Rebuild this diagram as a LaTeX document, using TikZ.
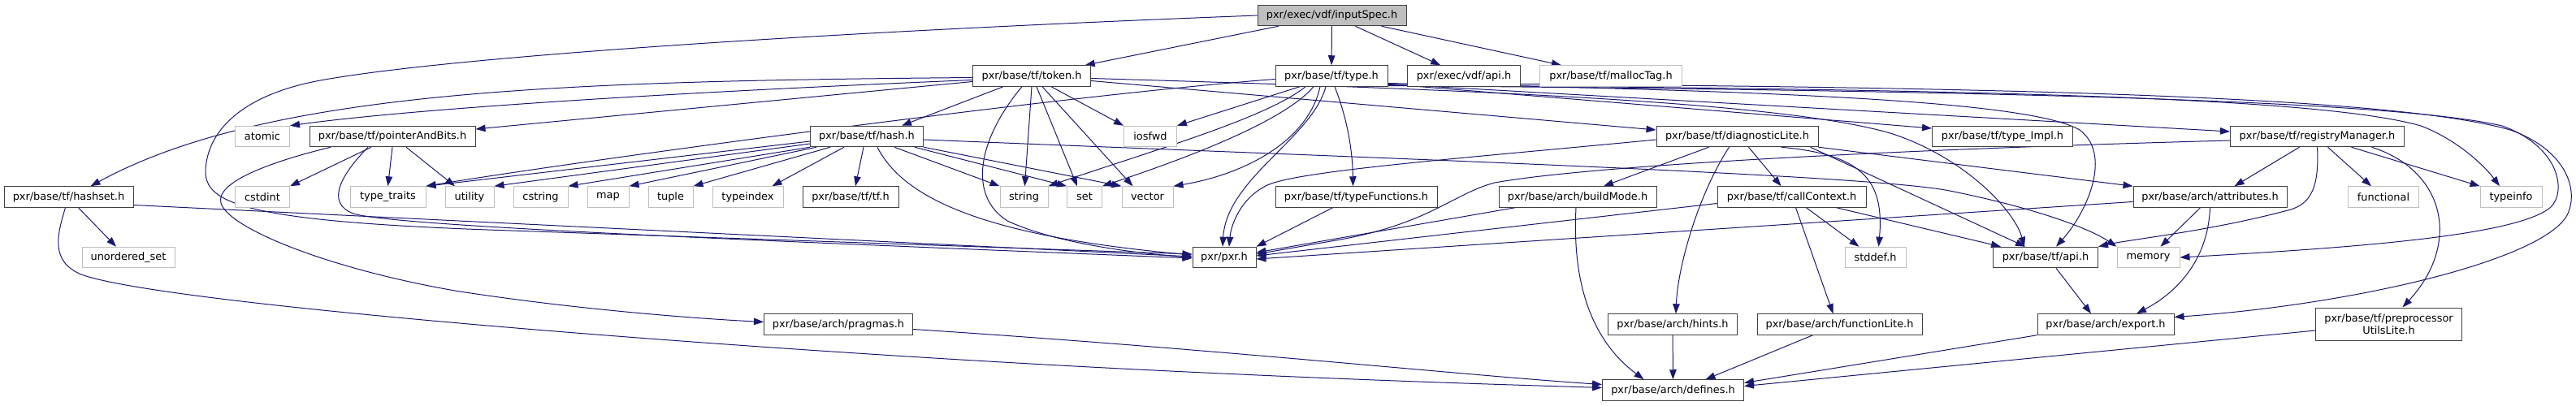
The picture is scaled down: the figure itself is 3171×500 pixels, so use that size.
\documentclass[tikz,border=0pt]{standalone}
\usepackage{fontspec}
\usetikzlibrary{arrows.meta, backgrounds}
\newfontfamily\dejavu{DejaVu Sans}
\definecolor{cedge}{HTML}{191970}
\definecolor{cdark}{HTML}{404040}
\definecolor{clight}{HTML}{BFBFBF}
\tikzset{
  every picture/.style={font=\dejavu\fontsize{12.9}{15}\selectfont, line width=1pt},
  hdr/.style={draw=cdark, fill=white, minimum height=25.5pt, inner xsep=2pt, inner ysep=0pt, line width=1pt},
  sys/.style={hdr, draw=clight},
  root/.style={hdr, fill=clight},
  dep/.style={-{Triangle[length=12pt,width=8.5pt]}, draw=cedge, line width=1pt},
}

\begin{document}
\begin{tikzpicture}[x=1pt, y=-1pt]
  \useasboundingbox (0,0) rectangle (3171,500);
  % row 0 and 1
  \node[root, minimum width=183pt] (is) at (1639.5,19) {pxr/exec/vdf/inputSpec.h};
  \node[hdr, minimum width=145pt] (tok) at (1270,93.5) {pxr/base/tf/token.h};
  \node[hdr, minimum width=138pt] (ty) at (1639,93.5) {pxr/base/tf/type.h};
  \node[hdr, minimum width=139pt] (vapi) at (1802,93.5) {pxr/exec/vdf/api.h};
  \node[sys, minimum width=175pt] (mtag) at (1983,93.5) {pxr/base/tf/mallocTag.h};
  % row 2
  \node[sys, minimum width=67pt] (atomic) at (323,168) {atomic};
  \node[hdr, minimum width=204pt] (pab) at (483,168) {pxr/base/tf/pointerAndBits.h};
  \node[hdr, minimum width=139pt] (hash) at (1067,168) {pxr/base/tf/hash.h};
  \node[sys, minimum width=65pt] (iosfwd) at (1416,168) {iosfwd};
  \node[hdr, minimum width=199pt] (diag) at (2138.5,168) {pxr/base/tf/diagnosticLite.h};
  \node[hdr, minimum width=173pt] (timpl) at (2465,168) {pxr/base/tf/type\_Impl.h};
  \node[hdr, minimum width=214pt] (rm) at (2852.5,168) {pxr/base/tf/registryManager.h};
  % row 3
  \node[hdr, minimum width=159pt] (hashset) at (84.5,242.5) {pxr/base/tf/hashset.h};
  \node[sys, minimum width=67pt] (cstdint) at (323,242.5) {cstdint};
  \node[sys, minimum width=93pt] (ttraits) at (477.5,242.5) {type\_traits};
  \node[sys, minimum width=60pt] (utility) at (578,242.5) {utility};
  \node[sys, minimum width=67pt] (cstring) at (665.5,242.5) {cstring};
  \node[sys, minimum width=51pt] (map) at (748.5,242.5) {map};
  \node[sys, minimum width=55pt] (tuple) at (825.5,242.5) {tuple};
  \node[sys, minimum width=87pt] (typeindex) at (920.5,242.5) {typeindex};
  \node[hdr, minimum width=118pt] (tfh) at (1047,242.5) {pxr/base/tf/tf.h};
  \node[sys, minimum width=59pt] (string) at (1260.5,242.5) {string};
  \node[sys, minimum width=43pt] (set) at (1335,242.5) {set};
  \node[sys, minimum width=63pt] (vector) at (1412.5,242.5) {vector};
  \node[hdr, minimum width=199pt] (tfun) at (1669.5,242.5) {pxr/base/tf/typeFunctions.h};
  \node[hdr, minimum width=194pt] (bmode) at (1942,242.5) {pxr/base/arch/buildMode.h};
  \node[hdr, minimum width=183pt] (cctx) at (2205.5,242.5) {pxr/base/tf/callContext.h};
  \node[hdr, minimum width=189pt] (attr) at (2720.5,242.5) {pxr/base/arch/attributes.h};
  \node[sys, minimum width=87pt] (functional) at (2934,242.5) {functional};
  \node[sys, minimum width=76pt] (typeinfo) at (3091,242.5) {typeinfo};
  % row 4
  \node[sys, minimum width=114pt] (unordered) at (158,317) {unordered\_set};
  \node[hdr, minimum width=78pt] (pxr) at (1507,317) {pxr/pxr.h};
  \node[sys, minimum width=75pt] (stddef) at (2308.5,317) {stddef.h};
  \node[hdr, minimum width=129pt] (tfapi) at (2518,317) {pxr/base/tf/api.h};
  \node[sys, minimum width=77pt] (memory) at (2644.5,317) {memory};
  % row 5 and 6
  \node[hdr, minimum width=183pt] (pragmas) at (1032,399.5) {pxr/base/arch/pragmas.h};
  \node[hdr, minimum width=159pt] (hints) at (2059,399.5) {pxr/base/arch/hints.h};
  \node[hdr, minimum width=203pt] (flite) at (2264.5,399.5) {pxr/base/arch/functionLite.h};
  \node[hdr, minimum width=168pt] (export) at (2592,399.5) {pxr/base/arch/export.h};
  \node[hdr, minimum width=180pt, minimum height=40pt, align=center] (ppu) at (2940.5,399) {pxr/base/tf/preprocessor\\UtilsLite.h};
  \node[hdr, minimum width=174pt] (defines) at (2059.5,480.5) {pxr/base/arch/defines.h};

  \begin{scope}[on background layer]
  % inputSpec.h
  \draw[dep] (is) -- (tok);
  \draw[dep] (is) -- (ty);
  \draw[dep] (is) -- (vapi);
  \draw[dep] (is) -- (mtag);
  \draw[dep] (is.west) .. controls (1000,40) and (560,70) .. (400,98) .. controls (300,115) and (255,160) .. (253,210) .. controls (252,250) and (300,272) .. (600,283) -- ([yshift=4pt]pxr.west);
  % token.h
  \draw[dep] ([yshift=-2pt]tok.west) .. controls (700,100) and (330,110) .. ([xshift=27pt]hashset.north);
  \draw[dep] ([yshift=-5pt]tok.west) .. controls (800,115) and (500,135) .. (atomic.north east);
  \draw[dep] ([yshift=-7pt]tok.west) -- ([yshift=9pt]pab.east);
  \draw[dep] ([xshift=-35pt]tok.south) -- ([xshift=43pt]hash.north);
  \draw[dep] (tok.south) -- (string);
  \draw[dep] ([xshift=6pt]tok.south) -- ([xshift=-9pt]set.north);
  \draw[dep] ([xshift=13pt]tok.south) -- ([xshift=-18pt]vector.north);
  \draw[dep] ([xshift=24pt]tok.south) -- (iosfwd.north west);
  \draw[dep] ([xshift=-12pt]tok.south) .. controls (1205,170) and (1190,240) .. (1240,272) .. controls (1300,300) and (1400,312) .. (pxr.west);
  \draw[dep] ([yshift=-6pt]tok.east) -- ([yshift=8pt]diag.west);
  \draw[dep] ([yshift=-3pt]tok.east) .. controls (1800,110) and (2200,125) .. (2330,165) .. controls (2420,195) and (2480,260) .. ([xshift=-26pt]tfapi.north);
  % type.h
  \draw[dep] ([xshift=-39pt]ty.south) -- (iosfwd.north east);
  \draw[dep] ([xshift=-32pt]ty.south) .. controls (1560,145) and (1420,185) .. (string.north east);
  \draw[dep] ([xshift=-22pt]ty.south) .. controls (1580,150) and (1460,195) .. (set.north east);
  \draw[dep] ([xshift=-14pt]ty.south) .. controls (1610,175) and (1530,215) .. (vector.north east);
  \draw[dep] ([xshift=-7pt]ty.south) .. controls (1615,170) and (1510,220) .. ([xshift=-2pt]pxr.north);
  \draw[dep] ([xshift=4pt]ty.south) .. controls (1660,150) and (1665,190) .. ([xshift=-4pt]tfun.north);
  \draw[dep] ([yshift=-4pt]ty.west) .. controls (1300,118) and (700,200) .. (ttraits.north east);
  \draw[dep] ([yshift=-10pt]ty.east) -- ([yshift=10pt]timpl.west);
  \draw[dep] ([yshift=-10pt]ty.east) -- ([yshift=6pt]rm.west);
  \draw[dep] ([yshift=-9pt]ty.east) .. controls (2200,112) and (2500,125) .. (2560,160) .. controls (2600,190) and (2570,260) .. ([xshift=13pt]tfapi.north);
  \draw[dep] ([yshift=-11pt]ty.east) .. controls (2400,110) and (2850,118) .. (2980,155) .. controls (3020,170) and (3055,200) .. ([xshift=-14pt]typeinfo.north);
  \draw[dep] ([yshift=-12pt]ty.east) .. controls (2500,112) and (2950,125) .. (3080,155) .. controls (3150,180) and (3160,235) .. (3140,255) .. controls (3100,290) and (2900,305) .. (memory.east);
  % vdf/api.h
  \draw[dep] ([yshift=-10pt]vapi.east) .. controls (2500,108) and (2950,120) .. (3090,160) .. controls (3160,185) and (3175,235) .. (3160,265) .. controls (3130,320) and (2900,375) .. ([yshift=9pt]export.east);
  % hash.h
  \draw[dep] ([yshift=-6pt]hash.west) -- (ttraits.north east);
  \draw[dep] ([yshift=-9pt]hash.west) -- (utility.north east);
  \draw[dep] (hash.south west) -- (cstring.north east);
  \draw[dep] ([xshift=8pt]hash.south west) -- (map.north east);
  \draw[dep] ([xshift=25pt]hash.south west) -- (tuple.north east);
  \draw[dep] ([xshift=42pt]hash.south west) -- ([xshift=-14pt]typeindex.north east);
  \draw[dep] ([xshift=-4pt]hash.south) -- ([xshift=6pt]tfh.north);
  \draw[dep] ([xshift=34pt]hash.south) -- (string.north west);
  \draw[dep] ([xshift=59pt]hash.south) -- (set.north west);
  \draw[dep] (hash.south east) -- (vector.north west);
  \draw[dep] ([xshift=13pt]hash.south) .. controls (1110,240) and (1200,290) .. ([yshift=3pt]pxr.west);
  \draw[dep] ([yshift=-4pt]hash.east) .. controls (1700,195) and (2300,215) .. (2400,235) .. controls (2500,255) and (2570,280) .. (memory.north west);
  % hashset.h
  \draw[dep] ([xshift=12pt]hashset.south) -- ([xshift=-15pt]unordered.north);
  \draw[dep] ([yshift=-10pt]hashset.east) -- ([yshift=1pt]pxr.west);
  \draw[dep] ([xshift=-4pt]hashset.south) .. controls (70,290) and (62,322) .. (100,338) .. controls (200,375) and (900,430) .. (1400,455) .. controls (1700,470) and (1900,475) .. ([yshift=3pt]defines.west);
  % pointerAndBits.h
  \draw[dep] ([xshift=-26pt]pab.south) -- (cstdint.north east);
  \draw[dep] (pab.south) -- (ttraits.north);
  \draw[dep] ([xshift=17pt]pab.south) -- ([xshift=-18pt]utility.north);
  \draw[dep] ([xshift=-30pt]pab.south) .. controls (420,215) and (400,250) .. (435,263) .. controls (480,278) and (900,295) .. ([yshift=-1pt]pxr.west);
  \draw[dep] ([xshift=-76pt]pab.south) .. controls (330,200) and (265,225) .. (272,250) .. controls (280,280) and (400,330) .. (560,358) .. controls (700,380) and (850,392) .. ([yshift=3pt]pragmas.west);
  % diagnosticLite.h
  \draw[dep] ([yshift=-4pt]diag.west) .. controls (1800,195) and (1600,210) .. (1560,228) .. controls (1525,245) and (1515,280) .. ([xshift=6pt]pxr.north);
  \draw[dep] ([xshift=-35pt]diag.south) -- ([xshift=32pt]bmode.north);
  \draw[dep] ([xshift=-10pt]diag.south) .. controls (2090,240) and (2065,330) .. ([xshift=4pt]hints.north);
  \draw[dep] ([xshift=14pt]diag.south) -- ([xshift=-13pt]cctx.north);
  \draw[dep] ([xshift=54pt]diag.south) .. controls (2290,190) and (2320,220) .. ([xshift=4pt]stddef.north);
  \draw[dep] ([xshift=90pt]diag.south) -- ([xshift=-25pt]tfapi.north);
  \draw[dep] (diag.south east) -- (attr.north west);
  % buildMode.h, typeFunctions.h, callContext.h
  \draw[dep] ([xshift=-77pt]bmode.south) -- ([yshift=6pt]pxr.east);
  \draw[dep] ([xshift=-2pt]bmode.south) .. controls (1935,350) and (1960,420) .. ([xshift=-36pt]defines.north);
  \draw[dep] ([xshift=-29pt]tfun.south) -- (pxr.north east);
  \draw[dep] ([yshift=-8pt]cctx.west) -- ([yshift=2pt]pxr.east);
  \draw[dep] ([xshift=18pt]cctx.south) -- ([xshift=-20pt]stddef.north);
  \draw[dep] ([xshift=5pt]cctx.south) -- ([xshift=-8pt]flite.north);
  \draw[dep] ([xshift=55pt]cctx.south) -- ([xshift=-55pt]tfapi.north);
  % attributes.h
  \draw[dep] ([yshift=-6pt]attr.west) -- ([yshift=-2pt]pxr.east);
  \draw[dep] ([xshift=-12pt]attr.south) -- ([xshift=15pt]memory.north);
  \draw[dep] (attr.south) .. controls (2718,320) and (2680,360) .. ([xshift=38pt]export.north);
  % registryManager.h
  \draw[dep] ([xshift=-22pt]rm.south) -- ([xshift=30pt]attr.north);
  \draw[dep] ([xshift=13pt]rm.south) -- ([xshift=-15pt]functional.north);
  \draw[dep] ([xshift=42pt]rm.south) -- (typeinfo.north west);
  \draw[dep] ([xshift=67pt]rm.south) .. controls (3010,210) and (3030,300) .. ([xshift=17pt]ppu.north);
  \draw[dep] (rm.south) .. controls (2855,230) and (2845,250) .. (2820,258) .. controls (2720,285) and (2620,295) .. (tfapi.north east);
  \draw[dep] ([yshift=-5pt]rm.west) .. controls (2300,185) and (1950,205) .. (1840,225) .. controls (1790,238) and (1760,275) .. (1650,295) -- ([yshift=4pt]pxr.east);
  % down to defines.h
  \draw[dep] ([yshift=-6pt]pragmas.east) .. controls (1500,430) and (1800,462) .. ([yshift=7pt]defines.west);
  \draw[dep] (hints) -- (defines);
  \draw[dep] ([xshift=-33pt]flite.south) -- ([xshift=40pt]defines.north);
  \draw[dep] ([xshift=13pt]tfapi.south) -- ([xshift=-18pt]export.north);
  \draw[dep] (export.south west) -- ([yshift=9pt]defines.east);
  \draw[dep] ([yshift=-8pt]ppu.west) -- ([yshift=5pt]defines.east);
  \end{scope}
\end{tikzpicture}
\end{document}
